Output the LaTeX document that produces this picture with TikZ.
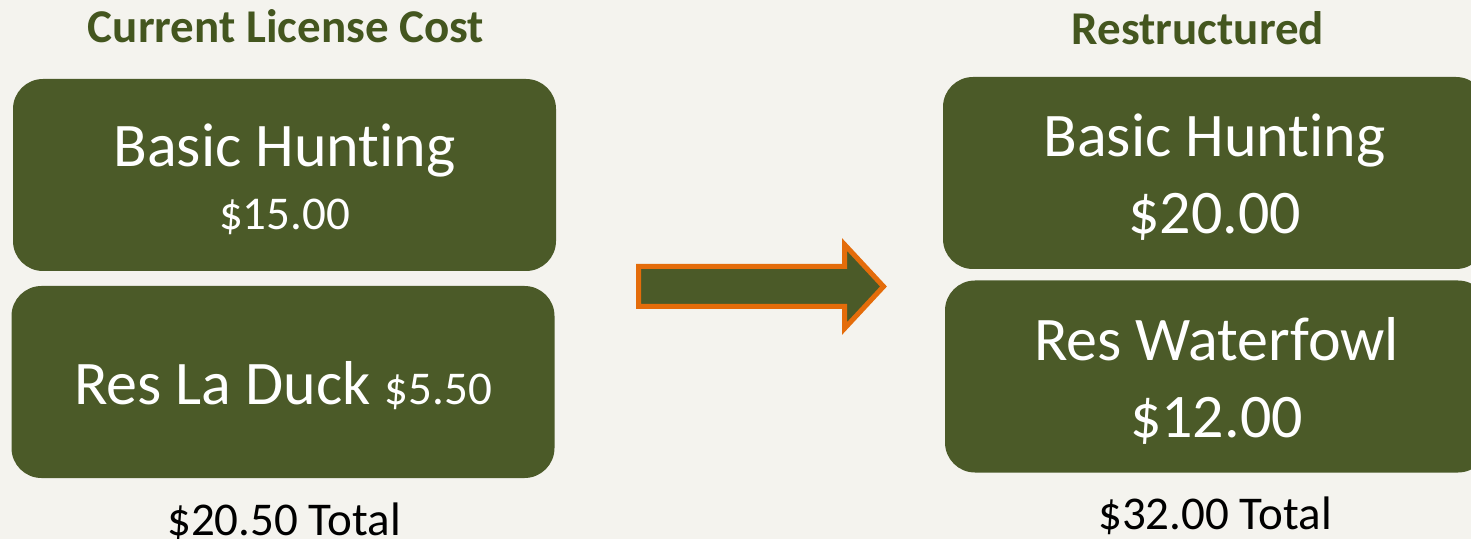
\documentclass[tikz,border=0pt]{standalone}
\usepackage{fontspec}
\setmainfont{Carlito}[Ligatures=NoCommon]
\usetikzlibrary{positioning}

\definecolor{pagebg}{HTML}{F4F3EE}
\definecolor{boxgreen}{HTML}{4B5A28}
\definecolor{titlegreen}{HTML}{44561F}
\definecolor{arroworange}{HTML}{E46C0A}

% pushes the text of a box a little lower
\newcommand{\toppad}{\rule{0pt}{25.5pt}}

\begin{document}
\begin{tikzpicture}[x=0.5pt,y=-0.5pt,
  cost/.style={fill=boxgreen, text=white, rounded corners=15pt, minimum width=271.5pt, minimum height=96pt, align=center, inner sep=0pt},
  big/.style={font=\fontsize{31}{38.5}\selectfont},
  head/.style={text=titlegreen, font=\fontsize{23.5}{28}\selectfont\bfseries, anchor=base},
  total/.style={text=black, font=\fontsize{23.5}{28}\selectfont, anchor=base},
]
\fill[pagebg] (0,0) rectangle (1471,539);
\useasboundingbox (0,0) rectangle (1471,539);

% column titles
\node[head] (curhead) at (286,43) {Current License Cost};
\node[head] (newhead) at (1198,45) {Restructured};

% current licenses
\node[cost, font=\fontsize{31}{31.5}\selectfont] (curbasic) at (284.5,175) {\toppad Basic Hunting\\{\fontsize{23.5}{31.5}\selectfont\$15.00}};
\node[cost, big] (curduck) at (283,382) {\toppad Res La Duck {\fontsize{23.5}{28}\selectfont\$5.50}};

% restructured licenses
\node[cost, big] (newbasic) at (1214.5,173) {\toppad Basic Hunting\\\$20.00};
\node[cost, big] (newfowl) at (1216.5,376.5) {\toppad Res Waterfowl\\\$12.00};

\node[total] (curtotal) at (284,535) {\$20.50 Total};
\node[total] (newtotal) at (1215,529) {\$32.00 Total};

% block arrow
\draw[arroworange, fill=boxgreen, line width=2.5pt, miter limit=4]
  (638.5,266.5) -- (844.5,266.5) -- (844.5,244.5) -- (883.5,286.5)
  -- (844.5,328.5) -- (844.5,306.5) -- (638.5,306.5) -- cycle;
\end{tikzpicture}
\end{document}
